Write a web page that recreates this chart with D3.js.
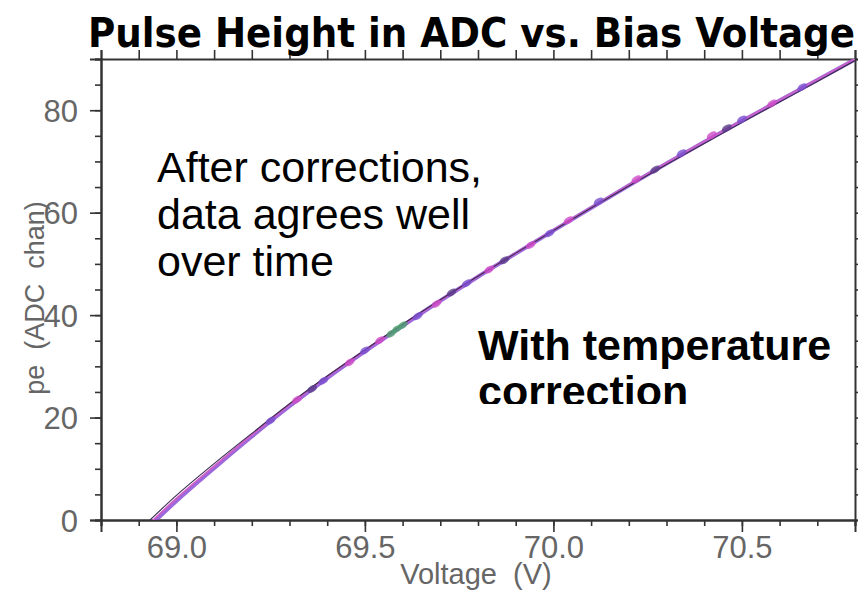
<!DOCTYPE html>
<html>
<head>
<meta charset="utf-8">
<script src="https://cdn.jsdelivr.net/npm/d3@7"></script>
<style>
  html, body { margin: 0; padding: 0; background: #fff; }
  svg { display: block; }
</style>
</head>
<body>
<svg width="858" height="592"></svg>
<script>
// fitted curves (voltage, pe)
var fitVolts = [68.93, 69.0, 69.1, 69.2, 69.3, 69.4, 69.5, 69.6, 69.7, 69.8, 69.9, 70.0, 70.1, 70.2, 70.3, 70.4, 70.5, 70.6, 70.7, 70.8];
var fitBlack = [0, 4.8, 11.0, 16.9, 22.7, 28.1, 33.2, 38.2, 43.0, 47.6, 52.1, 56.5, 60.9, 65.2, 69.4, 73.5, 77.6, 81.6, 85.6, 89.7];
var fitPurple = [-1.1, 3.7, 10.1, 16.3, 22.2, 27.7, 32.9, 37.9, 42.8, 47.5, 52.0, 56.5, 60.9, 65.3, 69.6, 73.8, 77.9, 81.9, 85.9, 89.9];
var fitMagenta = [-0.6, 4.2, 10.5, 16.6, 22.5, 28.0, 33.1, 38.1, 42.9, 47.6, 52.1, 56.6, 61.0, 65.4, 69.7, 73.9, 78.0, 82.0, 86.0, 90.0];

// measured points from the individual runs
var runAVolts = [69.32, 69.46, 69.54, 69.69, 69.83, 69.94, 70.04, 70.22, 70.42, 70.58];
var runAPe = [23.5, 30.8, 35.1, 42.2, 48.9, 53.7, 58.5, 66.5, 75.1, 81.3];
var runBVolts = [69.25, 69.39, 69.50, 69.64, 69.77, 69.99, 70.12, 70.34, 70.50, 70.66];
var runBPe = [19.4, 27.2, 33.1, 39.8, 46.2, 56.0, 62.2, 71.6, 78.2, 84.5];
var runCVolts = [69.57, 69.585, 69.60];
var runCPe = [36.4, 37.3, 38.0];
var runDVolts = [69.36, 69.73, 69.87, 70.27, 70.46];
var runDPe = [25.6, 44.4, 50.7, 68.4, 76.5];

var xMajor = [69.0, 69.5, 70.0, 70.5];
var yMajor = [0, 20, 40, 60, 80];

var svg = d3.select("svg");
var margin = {left: 101, top: 59, right: 855, bottom: 520};

var x = d3.scaleLinear().domain([68.8, 70.8]).range([margin.left, margin.right]);
var y = d3.scaleLinear().domain([0, 90]).range([margin.bottom, margin.top]);

svg.append("defs").append("clipPath").attr("id", "plot")
  .append("rect")
    .attr("x", margin.left).attr("y", margin.top)
    .attr("width", margin.right - margin.left).attr("height", margin.bottom - margin.top);

var xMinor = d3.range(68.8, 70.81, 0.1).map(function(d) { return +d.toFixed(1); });
var yMinor = d3.range(0, 91, 5);

// minor ticks
svg.append("g").attr("transform", "translate(0," + margin.bottom + ")")
  .call(d3.axisBottom(x).tickValues(xMinor).tickSize(6).tickFormat(""));
svg.append("g").attr("transform", "translate(0," + margin.top + ")")
  .call(d3.axisTop(x).tickValues(xMinor).tickSize(9).tickFormat(""));
svg.append("g").attr("transform", "translate(" + margin.left + ",0)")
  .call(d3.axisLeft(y).tickValues(yMinor).tickSize(6).tickFormat(""));
svg.append("g").attr("transform", "translate(" + margin.right + ",0)")
  .call(d3.axisRight(y).tickValues(yMinor).tickSize(6).tickFormat(""));

// major ticks with labels
var gx = svg.append("g").attr("class", "major").attr("transform", "translate(0," + margin.bottom + ")")
  .call(d3.axisBottom(x).tickValues(xMajor).tickSize(12).tickPadding(4).tickFormat(d3.format(".1f")));
var gy = svg.append("g").attr("class", "major").attr("transform", "translate(" + margin.left + ",0)")
  .call(d3.axisLeft(y).tickValues(yMajor).tickSize(11).tickPadding(12).tickFormat(d3.format("d")));

svg.selectAll(".domain").attr("stroke", "#333").attr("stroke-width", 2);
svg.selectAll(".tick line").attr("stroke", "#333").attr("stroke-width", 1.6);
svg.selectAll(".major text")
  .attr("fill", "#666")
  .style("font-family", "'Liberation Sans', Arial, sans-serif")
  .style("font-size", "31px");
gy.selectAll("text").attr("dy", "0.36em");

// curves
var line = d3.line()
  .x(function(d) { return x(d[0]); })
  .y(function(d) { return y(d[1]); })
  .curve(d3.curveMonotoneX);

var plot = svg.append("g").attr("clip-path", "url(#plot)");

function pairs(xs, ys) { return xs.map(function(v, i) { return [v, ys[i]]; }); }

plot.append("path").datum(pairs(fitVolts, fitPurple))
  .attr("d", line).attr("fill", "none").attr("stroke", "#8a4fd6").attr("stroke-width", 4).attr("opacity", 0.85);
plot.append("path").datum(pairs(fitVolts, fitMagenta))
  .attr("d", line).attr("fill", "none").attr("stroke", "#cc5fc8").attr("stroke-width", 1.8);
plot.append("path").datum(pairs(fitVolts, fitBlack))
  .attr("d", line).attr("fill", "none").attr("stroke", "#3a2a50").attr("stroke-width", 1.1);

var runs = [
  {v: runAVolts, p: runAPe, c: "#d04cc8"},
  {v: runBVolts, p: runBPe, c: "#7a4fcf"},
  {v: runDVolts, p: runDPe, c: "#5a3c8a"},
  {v: runCVolts, p: runCPe, c: "#4fa070"}
];
runs.forEach(function(r) {
  plot.selectAll(null).data(pairs(r.v, r.p)).enter().append("ellipse")
    .attr("cx", function(d) { return x(d[0]); })
    .attr("cy", function(d) { return y(d[1]); })
    .attr("rx", 5.5).attr("ry", 3.2)
    .attr("transform", function(d) { return "rotate(-33," + x(d[0]) + "," + y(d[1]) + ")"; })
    .attr("fill", r.c).attr("opacity", 0.8);
});

// axis titles
svg.append("text")
  .attr("x", 476).attr("y", 584)
  .attr("text-anchor", "middle").attr("fill", "#666")
  .style("font-family", "'Liberation Sans', Arial, sans-serif").style("font-size", "29px")
  .attr("xml:space", "preserve")
  .text("Voltage  (V)");
svg.append("text")
  .attr("transform", "translate(44,298) rotate(-90)")
  .attr("text-anchor", "middle").attr("fill", "#666")
  .style("font-family", "'Liberation Sans', Arial, sans-serif").style("font-size", "27px")
  .attr("xml:space", "preserve")
  .text("pe  (ADC  chan)");

// title
svg.append("text")
  .attr("x", 88).attr("y", 47)
  .attr("textLength", 767).attr("lengthAdjust", "spacingAndGlyphs")
  .style("font-family", "'Liberation Sans Narrow', 'DejaVu Sans Condensed', Arial, sans-serif")
  .style("font-weight", "bold").style("font-size", "40px")
  .text("Pulse Height in ADC vs. Bias Voltage");

// annotations
var note = ["After corrections,", "data agrees well", "over time"];
svg.selectAll(".note").data(note).enter().append("text")
  .attr("class", "note")
  .attr("x", 157).attr("y", function(d, i) { return 182 + i * 47; })
  .style("font-family", "'Liberation Sans', Arial, sans-serif").style("font-size", "43px")
  .text(function(d) { return d; });

svg.append("clipPath").attr("id", "cut").append("rect")
  .attr("x", 0).attr("y", 0).attr("width", 858).attr("height", 404);
var bold = ["With temperature", "correction"];
svg.selectAll(".bold").data(bold).enter().append("text")
  .attr("class", "bold")
  .attr("clip-path", "url(#cut)")
  .attr("x", 478).attr("y", function(d, i) { return 360 + i * 46; })
  .style("font-family", "'Liberation Sans', Arial, sans-serif")
  .style("font-weight", "bold").style("font-size", "43px")
  .text(function(d) { return d; });
</script>
</body>
</html>
